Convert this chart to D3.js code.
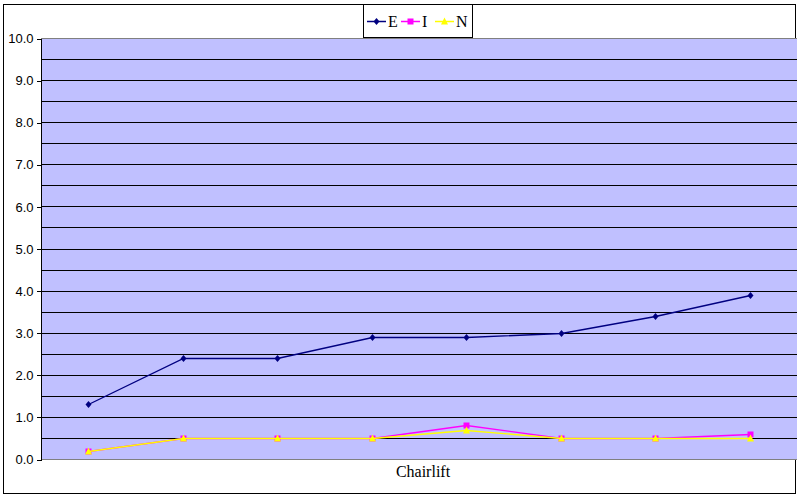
<!DOCTYPE html>
<html><head><meta charset="utf-8">
<script src="https://cdn.jsdelivr.net/npm/d3@7"></script>
<style>body{margin:0;background:#fff}svg{display:block}</style>
</head><body>
<script>
const points = [1,2,3,4,5,6,7,8];
const seriesNames = ["E","I","N"];
const valuesE = [1.3, 2.4, 2.4, 2.9, 2.9, 3.0, 3.4, 3.9];
const valuesI = [0.2, 0.5, 0.5, 0.5, 0.8, 0.5, 0.5, 0.6];
const valuesN = [0.2, 0.5, 0.5, 0.5, 0.7, 0.5, 0.5, 0.5];
const yTicks = [0,1,2,3,4,5,6,7,8,9,10];
const gridVals = d3.range(0.5, 10, 0.5);
const categoryLabel = "Chairlift";
const colors = {E:"#000080", I:"#FF00FF", N:"#FFFF00"};

const W=800,H=500;
const svg=d3.select("body").append("svg").attr("width",W).attr("height",H);
const L=41,R=797,T=38,B=459;
const x=d3.scaleBand().domain(points).range([L,R]);
const y=d3.scaleLinear().domain([0,10]).range([B,T]);
const cx=d=>Math.round(x(d)+x.bandwidth()/2)+0.5;

// outer frame
svg.append("rect").attr("x",3.5).attr("y",4.5).attr("width",792).attr("height",489)
  .attr("fill","#fff").attr("stroke","#000").attr("stroke-width",1);

// plot area
svg.append("rect").attr("x",L).attr("y",T).attr("width",R-L).attr("height",B-T).attr("fill","#C0C0FF");
// gridlines
svg.append("g").attr("shape-rendering","crispEdges").selectAll("line").data(gridVals).join("line")
  .attr("x1",L).attr("x2",R).attr("y1",d=>Math.round(y(d))+0.5).attr("y2",d=>Math.round(y(d))+0.5)
  .attr("stroke","#000").attr("stroke-width",1);
// top & bottom gray
[10,0].forEach(v=>svg.append("line").attr("x1",L).attr("x2",R).attr("shape-rendering","crispEdges")
  .attr("y1",Math.round(y(v))+0.5).attr("y2",Math.round(y(v))+0.5).attr("stroke","#808080"));

// y axis
const yAxis=d3.axisLeft(y).tickValues(yTicks).tickFormat(d3.format(".1f")).tickSize(5).tickPadding(3);
const ga=svg.append("g").attr("transform",`translate(${L+0.5},0.5)`).attr("shape-rendering","crispEdges").call(yAxis);
ga.select(".domain").attr("stroke","#000").attr("d",`M0,${T}V${B}`);
ga.selectAll(".tick line").attr("stroke","#000");
ga.selectAll(".tick text").attr("font-family","'Liberation Sans',Arial,sans-serif").attr("font-size",13).attr("fill","#000");

// x label
svg.append("text").attr("x",(L+R)/2+4).attr("y",477).attr("text-anchor","middle")
  .attr("font-family","'Liberation Serif','Times New Roman',serif").attr("font-size",16).text(categoryLabel);

const line=d3.line().x((d,i)=>cx(points[i])).y(d=>Math.round(y(d))+0.5);
const data={E:valuesE,I:valuesI,N:valuesN};

function marker(g,name,px,py){
  if(name==="E"){
    g.append("path").attr("d",`M${px},${py-3.5}L${px+3},${py}L${px},${py+3.5}L${px-3},${py}Z`).attr("fill",colors.E);
  } else if(name==="I"){
    g.append("rect").attr("x",px-3).attr("y",py-3).attr("width",6).attr("height",6).attr("fill",colors.I);
  } else {
    g.append("path").attr("d",`M${px},${py-4}L${px+3.5},${py+3}L${px-3.5},${py+3}Z`).attr("fill",colors.N);
  }
}

seriesNames.forEach(name=>{
  const g=svg.append("g");
  g.append("path").datum(data[name]).attr("d",line).attr("fill","none").attr("stroke",colors[name]).attr("stroke-width",1.3);
  data[name].forEach((v,i)=>marker(g,name,cx(points[i]),Math.round(y(v))+0.5));
});

// legend
const lg=svg.append("g");
lg.append("rect").attr("x",363.5).attr("y",4.5).attr("width",109).attr("height",33).attr("fill","#fff").attr("stroke","#000");
const lx=[367,401,435];
seriesNames.forEach((name,i)=>{
  const yy=21.5;
  lg.append("line").attr("x1",lx[i]).attr("x2",lx[i]+19).attr("y1",yy).attr("y2",yy).attr("stroke",colors[name]).attr("stroke-width",1.5);
  marker(lg,name,lx[i]+9.5,yy);
  lg.append("text").attr("x",lx[i]+21).attr("y",yy+5.5).attr("font-family","'Liberation Serif','Times New Roman',serif")
    .attr("font-size",16).text(name);
});
</script>
</body></html>
